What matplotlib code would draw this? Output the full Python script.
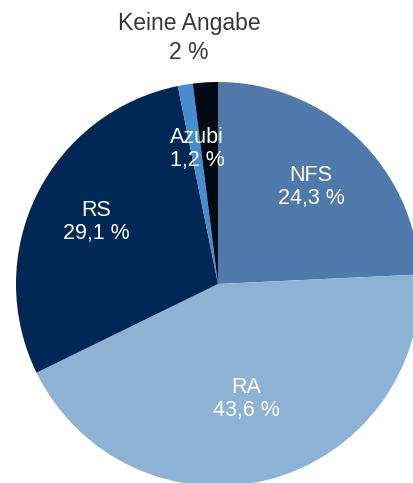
import matplotlib.pyplot as plt

plt.rcParams['font.family'] = ['Liberation Sans', 'DejaVu Sans']

# Anteile in Prozent, im Uhrzeigersinn ab 12 Uhr
labels = ["NFS", "RA", "RS", "Azubi", "Keine Angabe"]
values = [24.3, 43.6, 29.1, 1.2, 2.0]
value_text = ["24,3 %", "43,6 %", "29,1 %", "1,2 %", "2 %"]
colors = ["#4f79a8", "#8db2d4", "#002856", "#468cce", "#020a14"]

W, H = 413, 483
cx, cy, r = 218, 284, 202

fig = plt.figure(figsize=(W / 100, H / 100), dpi=100)
ax = fig.add_axes([(cx - r) / W, (H - cy - r) / H, 2 * r / W, 2 * r / H])
ax.pie(values, colors=colors, startangle=90, counterclock=False,
       radius=1, wedgeprops=dict(linewidth=0))
ax.set_xlim(-1, 1)
ax.set_ylim(-1, 1)
ax.set_aspect('equal')
ax.axis('off')

# Beschriftungspositionen in Pixeln (Mitte des Textblocks)
label_pos = [(311, 187), (246, 399), (96, 222), (197, 149), (189, 38)]

for i in range(len(labels)):
    px, py = label_pos[i]
    if labels[i] == "Keine Angabe":
        fig.text(px / W, 1 - py / H, labels[i] + "\n" + value_text[i],
                 ha='center', va='center', color='#383838', fontsize=16.5,
                 linespacing=1.3)
    else:
        fig.text(px / W, 1 - py / H, labels[i] + "\n" + value_text[i],
                 ha='center', va='center', color='white', fontsize=15.5,
                 linespacing=1.1)

fig.savefig("out.png", dpi=100)
